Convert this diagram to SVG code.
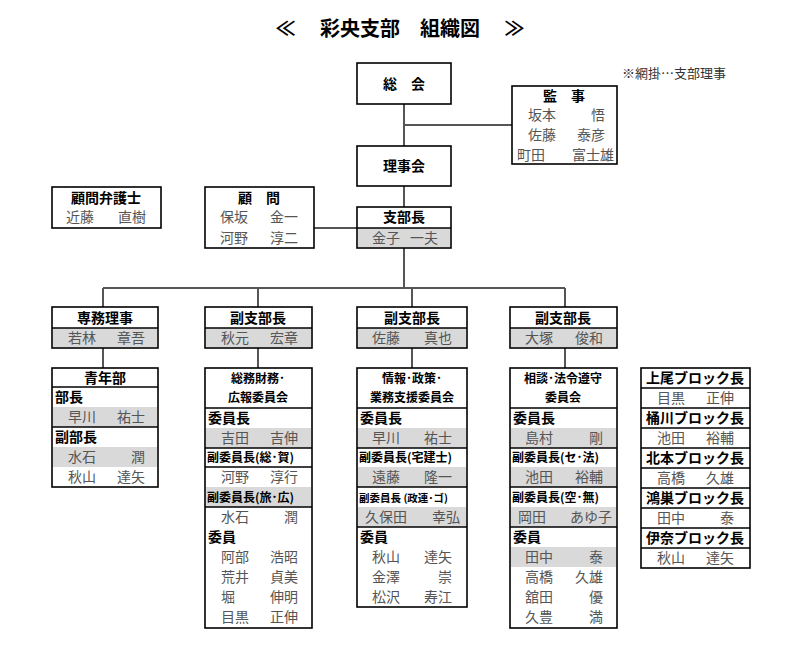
<svg xmlns="http://www.w3.org/2000/svg" width="800" height="648" viewBox="0 0 800 648">
<style>
text{font-family:"Noto Sans CJK JP","Liberation Sans",sans-serif;}
.t{font-size:20px;font-weight:bold;fill:#000;text-anchor:middle}
.h{font-size:14px;font-weight:bold;fill:#000;text-anchor:middle}
.hs{font-size:12px;font-weight:bold;fill:#000;text-anchor:middle}
.lb{font-size:14px;font-weight:bold;fill:#000}
.ls{font-size:12px;font-weight:bold;fill:#000}
.lx{font-size:10.5px;font-weight:bold;fill:#000}
.nm{font-size:14px;fill:#555}
.r{text-anchor:end}
.c{text-anchor:middle}
.note{font-size:13px;fill:#333}
.box{fill:#fff;stroke:#000;stroke-width:1.6}
.g{fill:#d9d9d9;stroke:none}
.sep{stroke:#000;stroke-width:1.6}
.ln{stroke:#555;stroke-width:2;fill:none}
</style>
<text class="t" x="400" y="36">≪　 彩央支部　組織図　 ≫</text>
<text class="note" x="622" y="78">※網掛…支部理事</text>
<g id="connectors">
<path class="ln" d="M404,104V146M404,125H512M404,186V207M314,228H357M404,248V288M103,288H565M103,288V307M258,288V307M412,288V307M565,288V307M103,348V368M258,348V368M412,348V368M565,348V368"/>
</g>
<g id="sokai"><rect class="box" x="357" y="63" width="94" height="41"/><text class="h" x="404" y="89">総　会</text></g>
<g id="kanji"><rect class="box" x="512" y="86" width="105" height="78"/><text class="h" x="564" y="101">監　事</text>
<text class="nm" x="528" y="120">坂本</text><text class="nm r" x="605" y="120">悟</text>
<text class="nm" x="528" y="140">佐藤</text><text class="nm r" x="605" y="140">泰彦</text>
<text class="nm" x="517" y="160">町田</text><text class="nm r" x="614" y="160">富士雄</text></g>
<g id="rijikai"><rect class="box" x="357" y="146" width="94" height="40"/><text class="h" x="404" y="171">理事会</text></g>
<g id="bengoshi"><rect class="box" x="52" y="187" width="109" height="41"/><text class="h" x="106" y="203">顧問弁護士</text>
<text class="nm" x="66" y="222">近藤</text><text class="nm r" x="146" y="222">直樹</text></g>
<g id="komon"><rect class="box" x="205" y="187" width="109" height="61"/><text class="h" x="259" y="203">顧　問</text>
<text class="nm" x="220" y="222">保坂</text><text class="nm r" x="298" y="222">金一</text>
<text class="nm" x="220" y="243">河野</text><text class="nm r" x="298" y="243">淳二</text></g>
<g id="shibucho"><rect class="box" x="357" y="207" width="94" height="41"/><rect class="g" x="358" y="228" width="92" height="19"/><line class="sep" x1="357" y1="228" x2="451" y2="228"/>
<text class="h" x="404" y="222">支部長</text><text class="nm" x="372" y="243">金子</text><text class="nm r" x="438" y="243">一夫</text></g>
<g id="senmu"><rect class="box" x="52" y="307" width="106" height="41"/><rect class="g" x="53" y="328" width="104" height="19"/><line class="sep" x1="52" y1="328" x2="158" y2="328"/>
<text class="h" x="105" y="323">専務理事</text><text class="nm" x="68" y="343">若林</text><text class="nm r" x="145" y="343">章吾</text></g>
<g id="fuku1"><rect class="box" x="205" y="307" width="107" height="41"/><rect class="g" x="206" y="328" width="105" height="19"/><line class="sep" x1="205" y1="328" x2="312" y2="328"/>
<text class="h" x="258" y="323">副支部長</text><text class="nm" x="221" y="343">秋元</text><text class="nm r" x="298" y="343">宏章</text></g>
<g id="fuku2"><rect class="box" x="357" y="307" width="110" height="41"/><rect class="g" x="358" y="328" width="108" height="19"/><line class="sep" x1="357" y1="328" x2="467" y2="328"/>
<text class="h" x="412" y="323">副支部長</text><text class="nm" x="372" y="343">佐藤</text><text class="nm r" x="452" y="343">真也</text></g>
<g id="fuku3"><rect class="box" x="510" y="307" width="107" height="41"/><rect class="g" x="511" y="328" width="105" height="19"/><line class="sep" x1="510" y1="328" x2="617" y2="328"/>
<text class="h" x="563" y="323">副支部長</text><text class="nm" x="525" y="343">大塚</text><text class="nm r" x="603" y="343">俊和</text></g>
<g id="seinenbu"><rect class="box" x="52" y="368" width="106" height="119"/>
<rect class="g" x="53" y="407" width="104" height="20"/><rect class="g" x="53" y="447" width="104" height="20"/>
<line class="sep" x1="52" y1="387" x2="158" y2="387"/><line class="sep" x1="52" y1="427" x2="158" y2="427"/>
<text class="h" x="105" y="383">青年部</text>
<text class="lb" x="55" y="402">部長</text><text class="nm" x="68" y="422">早川</text><text class="nm r" x="145" y="422">祐士</text>
<text class="lb" x="55" y="442">副部長</text><text class="nm" x="68" y="462">水石</text><text class="nm r" x="145" y="462">潤</text>
<text class="nm" x="68" y="482">秋山</text><text class="nm r" x="145" y="482">達矢</text></g>
<g id="somu"><rect class="box" x="205" y="368" width="107" height="260"/>
<rect class="g" x="206" y="428" width="105" height="20"/><rect class="g" x="206" y="487" width="105" height="20"/>
<line class="sep" x1="205" y1="408" x2="312" y2="408"/><line class="sep" x1="205" y1="448" x2="312" y2="448"/><line class="sep" x1="205" y1="467" x2="312" y2="467"/><line class="sep" x1="205" y1="507" x2="312" y2="507"/>
<text class="hs" x="258" y="383">総務財務･</text><text class="hs" x="258" y="402">広報委員会</text>
<text class="lb" x="208" y="423">委員長</text><text class="nm" x="221" y="443">吉田</text><text class="nm r" x="298" y="443">吉伸</text>
<text class="ls" x="207" y="462">副委員長(総･賀)</text><text class="nm" x="221" y="482">河野</text><text class="nm r" x="298" y="482">淳行</text>
<text class="ls" x="207" y="502">副委員長(旅･広)</text><text class="nm" x="221" y="522">水石</text><text class="nm r" x="298" y="522">潤</text>
<text class="lb" x="208" y="542">委員</text>
<text class="nm" x="221" y="562">阿部</text><text class="nm r" x="298" y="562">浩昭</text>
<text class="nm" x="221" y="582">荒井</text><text class="nm r" x="298" y="582">貞美</text>
<text class="nm" x="221" y="602">堀</text><text class="nm r" x="298" y="602">伸明</text>
<text class="nm" x="221" y="622">目黒</text><text class="nm r" x="298" y="622">正伸</text></g>
<g id="joho"><rect class="box" x="357" y="368" width="110" height="239"/>
<rect class="g" x="358" y="428" width="108" height="20"/><rect class="g" x="358" y="467" width="108" height="20"/><rect class="g" x="358" y="507" width="108" height="20"/>
<line class="sep" x1="357" y1="408" x2="467" y2="408"/><line class="sep" x1="357" y1="448" x2="467" y2="448"/><line class="sep" x1="357" y1="487" x2="467" y2="487"/><line class="sep" x1="357" y1="527" x2="467" y2="527"/>
<text class="hs" x="412" y="383">情報･政策･</text><text class="hs" x="412" y="402">業務支援委員会</text>
<text class="lb" x="360" y="423">委員長</text><text class="nm" x="372" y="443">早川</text><text class="nm r" x="452" y="443">祐士</text>
<text class="ls" x="359" y="462">副委員長(宅建士)</text><text class="nm" x="372" y="482">遠藤</text><text class="nm r" x="452" y="482">隆一</text>
<text class="lx" x="359" y="502">副委員長 (政連･ゴ)</text><text class="nm" x="365" y="522">久保田</text><text class="nm r" x="460" y="522">幸弘</text>
<text class="lb" x="360" y="542">委員</text>
<text class="nm" x="372" y="562">秋山</text><text class="nm r" x="452" y="562">達矢</text>
<text class="nm" x="372" y="582">金澤</text><text class="nm r" x="452" y="582">崇</text>
<text class="nm" x="372" y="602">松沢</text><text class="nm r" x="452" y="602">寿江</text></g>
<g id="sodan"><rect class="box" x="510" y="368" width="107" height="260"/>
<rect class="g" x="511" y="428" width="105" height="20"/><rect class="g" x="511" y="467" width="105" height="20"/><rect class="g" x="511" y="507" width="105" height="20"/><rect class="g" x="511" y="547" width="105" height="20"/>
<line class="sep" x1="510" y1="408" x2="617" y2="408"/><line class="sep" x1="510" y1="448" x2="617" y2="448"/><line class="sep" x1="510" y1="487" x2="617" y2="487"/><line class="sep" x1="510" y1="527" x2="617" y2="527"/>
<text class="hs" x="563" y="383">相談･法令遵守</text><text class="hs" x="563" y="402">委員会</text>
<text class="lb" x="513" y="423">委員長</text><text class="nm" x="525" y="443">島村</text><text class="nm r" x="603" y="443">剛</text>
<text class="ls" x="512" y="462">副委員長(セ･法)</text><text class="nm" x="525" y="482">池田</text><text class="nm r" x="603" y="482">裕輔</text>
<text class="ls" x="512" y="502">副委員長(空･無)</text><text class="nm" x="518" y="522">岡田</text><text class="nm r" x="612" y="522">あゆ子</text>
<text class="lb" x="513" y="542">委員</text>
<text class="nm" x="525" y="562">田中</text><text class="nm r" x="603" y="562">泰</text>
<text class="nm" x="525" y="582">高橋</text><text class="nm r" x="603" y="582">久雄</text>
<text class="nm" x="525" y="602">舘田</text><text class="nm r" x="603" y="602">優</text>
<text class="nm" x="525" y="622">久豊</text><text class="nm r" x="603" y="622">満</text></g>
<g id="blocks"><rect class="box" x="641" y="368" width="109" height="200"/>
<path class="sep" d="M641,388H750M641,408H750M641,428H750M641,448H750M641,468H750M641,488H750M641,508H750M641,528H750M641,548H750"/>
<text class="h" x="695" y="383">上尾ブロック長</text><text class="nm" x="657" y="403">目黒</text><text class="nm r" x="734" y="403">正伸</text>
<text class="h" x="695" y="423">桶川ブロック長</text><text class="nm" x="657" y="443">池田</text><text class="nm r" x="734" y="443">裕輔</text>
<text class="h" x="695" y="463">北本ブロック長</text><text class="nm" x="657" y="483">高橋</text><text class="nm r" x="734" y="483">久雄</text>
<text class="h" x="695" y="503">鴻巣ブロック長</text><text class="nm" x="657" y="523">田中</text><text class="nm r" x="734" y="523">泰</text>
<text class="h" x="695" y="543">伊奈ブロック長</text><text class="nm" x="657" y="563">秋山</text><text class="nm r" x="734" y="563">達矢</text></g>
</svg>
